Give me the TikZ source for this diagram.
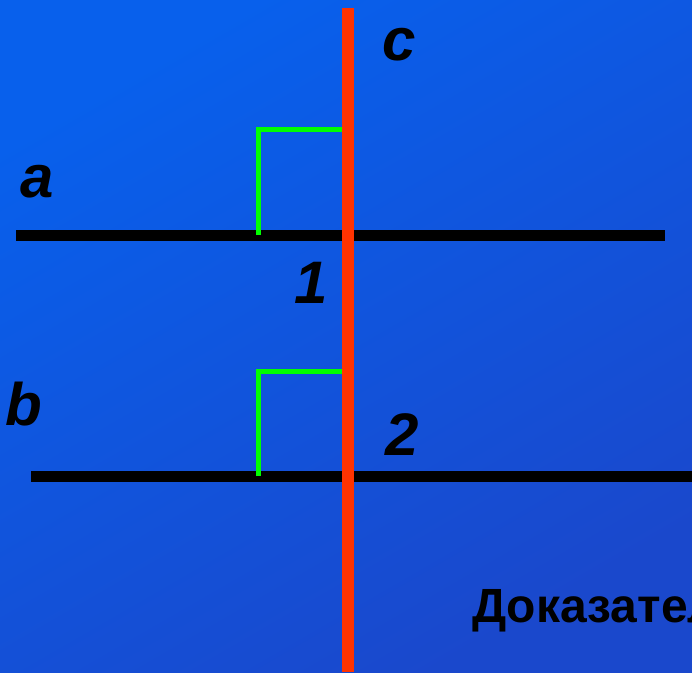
\documentclass[tikz,border=0pt]{standalone}
\usepackage{fontspec}
\setmainfont{Liberation Sans}
\definecolor{bgA}{RGB}{8,96,236}
\definecolor{bgB}{RGB}{26,72,204}
\definecolor{redline}{RGB}{255,51,0}
\definecolor{greenmark}{RGB}{0,255,0}
\tikzset{
  lbl/.style={font=\fontsize{60}{60}\selectfont\bfseries\itshape, text=black, inner sep=0pt},
  blackline/.style={line width=11pt, black},
  transversal/.style={line width=12pt, redline},
  rightmark/.style={line width=5pt, greenmark},
}
\begin{document}
\begin{tikzpicture}[x=1pt,y=-1pt]
\shade[top color=bgA, bottom color=bgB, shading angle=30] (0,0) rectangle (692,672);
\useasboundingbox (0,0) rectangle (692,672);
% points
\coordinate (a1) at (16,235);
\coordinate (a2) at (665,235);
\coordinate (b1) at (31,476);
\coordinate (b2) at (692,476);
\coordinate (c1) at (348,8);
\coordinate (c2) at (348,672);
\coordinate (m1a) at (258,235);
\coordinate (m1b) at (258,129);
\coordinate (m1c) at (348,129);
\coordinate (m2a) at (258,476);
\coordinate (m2b) at (258,371);
\coordinate (m2c) at (348,371);
% lines
\draw[blackline] (a1) -- (a2);
\draw[blackline] (b1) -- (b2);
\draw[rightmark] (m1a) -- (m1b) -- (m1c);
\draw[rightmark] (m2a) -- (m2b) -- (m2c);
\draw[transversal] (c1) -- (c2);
% labels
\node[lbl] (lc) at (399,45) {c};
\node[lbl] (la) at (37,182) {a};
\node[lbl] (lb) at (24,404) {b};
\node[lbl] (l1) at (311,283) {1};
\node[lbl] (l2) at (402,435) {2};
\begin{scope}
\clip (0,0) rectangle (692,672);
\node[anchor=base west, inner sep=0pt, font=\fontsize{48}{48}\selectfont\bfseries, text=black] (proof) at (472,622) {Доказательство};
\end{scope}
\end{tikzpicture}
\end{document}
